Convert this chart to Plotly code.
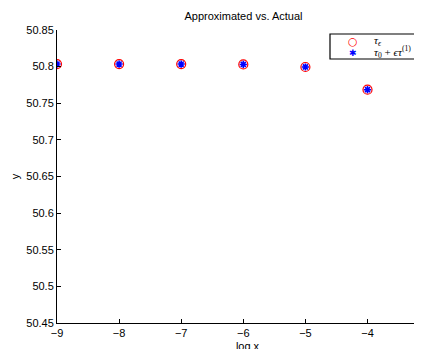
import plotly.graph_objects as go

# Data
log_x = [-9, -8, -7, -6, -5, -4]
tau_eps = [50.8035, 50.8035, 50.8035, 50.8030, 50.7995, 50.7685]
tau_approx = [50.8035, 50.8035, 50.8035, 50.8030, 50.7995, 50.7685]

x_ticks = [-9, -8, -7, -6, -5, -4, -3]
y_ticks = [50.45, 50.5, 50.55, 50.6, 50.65, 50.7, 50.75, 50.8, 50.85]
y_tick_text = ["50.45", "50.5", "50.55", "50.6", "50.65", "50.7", "50.75", "50.8", "50.85"]

title_text = "Approximated vs. Actual"
x_title = "log x"
y_title = "y"
legend_labels = ["<i>τ</i><sub><i>ϵ</i></sub>",
                 "<i>τ</i><sub>0</sub> + <i>ϵτ</i><sup>(1)</sup>"]

OFF = 8  # default page body margin
W, H = 430, 349
ML, MR, MT, MB = 49, 0, 22, 34

font_main = "Liberation Sans, Arial, Helvetica, sans-serif"
font_serif = "Liberation Serif, DejaVu Serif, Times New Roman, serif"

fig = go.Figure()
fig.add_trace(go.Scatter(
    x=log_x, y=tau_eps, mode="markers", name="tau_eps",
    marker=dict(symbol="circle-open", size=9, color="red", line=dict(width=1.2, color="red")),
    showlegend=False,
))
fig.add_trace(go.Scatter(
    x=log_x, y=tau_approx, mode="markers", name="tau_approx",
    marker=dict(symbol="asterisk-open", size=6, color="blue", line=dict(width=1.6, color="blue")),
    showlegend=False,
))

pw = W - ML - MR
ph = H - MT - MB
x_left = -9
x_right = -9 + pw / 62.1

def px_x(px):
    return (px - OFF - ML) / pw

def px_y(py):
    return (H - MB - (py - OFF)) / ph

# Legend box (drawn as layout shape + annotations)
fig.add_shape(type="rect", xref="paper", yref="paper",
              x0=px_x(330), x1=px_x(450), y0=px_y(59), y1=px_y(34),
              line=dict(color="black", width=1.2), fillcolor="white", layer="above")
fig.add_annotation(xref="paper", yref="paper", x=px_x(353), y=px_y(41), text="○",
                   showarrow=False, font=dict(color="red", size=11, family="DejaVu Sans"),
                   xanchor="center", yanchor="middle")
fig.add_annotation(xref="paper", yref="paper", x=px_x(353), y=px_y(52.5), text="✱",
                   showarrow=False, font=dict(color="blue", size=9, family="DejaVu Sans"),
                   xanchor="center", yanchor="middle")
fig.add_annotation(xref="paper", yref="paper", x=px_x(372), y=px_y(41), text=legend_labels[0],
                   showarrow=False, font=dict(color="black", size=11, family=font_serif),
                   xanchor="left", yanchor="middle")
fig.add_annotation(xref="paper", yref="paper", x=px_x(372), y=px_y(52), text=legend_labels[1],
                   showarrow=False, font=dict(color="black", size=11, family=font_serif),
                   xanchor="left", yanchor="middle")

fig.update_layout(
    width=W, height=H,
    margin=dict(l=ML, r=MR, t=MT, b=MB, pad=0),
    paper_bgcolor="white", plot_bgcolor="white",
    font=dict(family=font_main, size=11, color="black"),
    title=dict(text=title_text, x=px_x(243.5), xref="paper", xanchor="center",
               y=1 - (16 - OFF) / H, yref="container", yanchor="middle",
               font=dict(size=11, family=font_main, color="black")),
    xaxis=dict(range=[x_left, x_right], tickvals=x_ticks, ticks="inside", ticklen=4,
               tickwidth=1, tickcolor="black", showline=True, linecolor="black", linewidth=1,
               showgrid=False, zeroline=False, automargin=False,
               tickfont=dict(size=11, family=font_main),
               title=dict(text=x_title, standoff=4, font=dict(size=11, family=font_main))),
    yaxis=dict(range=[50.45, 50.85], tickvals=y_ticks, ticktext=y_tick_text, ticks="inside",
               ticklen=4, tickwidth=1, tickcolor="black", showline=True, linecolor="black",
               linewidth=1, showgrid=False, zeroline=False, automargin=False,
               tickfont=dict(size=11, family=font_main),
               title=dict(text=y_title, standoff=4, font=dict(size=11, family=font_main))),
)

fig.write_html("out.html")
